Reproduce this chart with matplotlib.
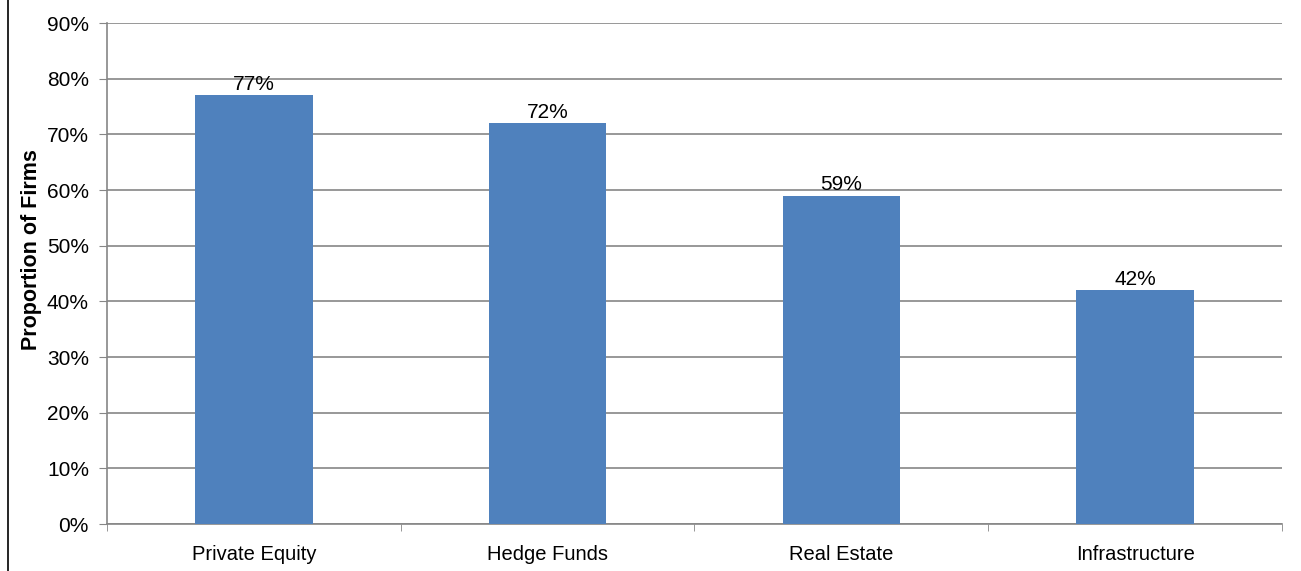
import matplotlib.pyplot as plt
from matplotlib.lines import Line2D
from matplotlib.ticker import FuncFormatter, MultipleLocator

categories = ["Private Equity", "Hedge Funds", "Real Estate", "Infrastructure"]
values = [77, 72, 59, 42]

plt.rcParams["font.family"] = ["Liberation Sans", "DejaVu Sans"]

fig = plt.figure(figsize=(13.01, 5.71), dpi=100)
ax = fig.add_axes([0.0822, 0.0823, 0.9032, 0.8774])

x = range(len(categories))
ax.bar(x, values, width=0.4, color="#4F81BD", zorder=3)

for i, v in enumerate(values):
    ax.text(i, v + 0.2, f"{v}%", ha="center", va="bottom", fontsize=15, zorder=4)

ax.set_ylim(0, 90)
ax.set_xlim(-0.5, len(categories) - 0.5)
ax.yaxis.set_major_locator(MultipleLocator(10))
ax.yaxis.set_major_formatter(FuncFormatter(lambda v, p: f"{v:.0f}%"))
ax.grid(axis="y", color="#868686", linewidth=1.2, zorder=0)

ax.set_xticks(list(x))
ax.set_xticklabels(categories)
ax.set_xticks([i - 0.5 for i in range(len(categories) + 1)], minor=True)
ax.tick_params(axis="x", which="major", length=0, pad=15, labelsize=14.5)
ax.tick_params(axis="x", which="minor", length=5, color="#868686", direction="out")
ax.tick_params(axis="y", length=6, color="#868686", labelsize=15, pad=7)

for s in ["top", "right"]:
    ax.spines[s].set_visible(False)
for s in ["left", "bottom"]:
    ax.spines[s].set_color("#868686")
    ax.spines[s].set_linewidth(1.2)

ax.set_ylabel("Proportion of Firms", fontsize=15.5, fontweight="bold")
ax.yaxis.set_label_coords(-0.0553, 0.547)

fig.add_artist(Line2D([0.0065, 0.0065], [0, 1], color="#000000", linewidth=1.2, transform=fig.transFigure))

fig.savefig("out.png", dpi=100)
